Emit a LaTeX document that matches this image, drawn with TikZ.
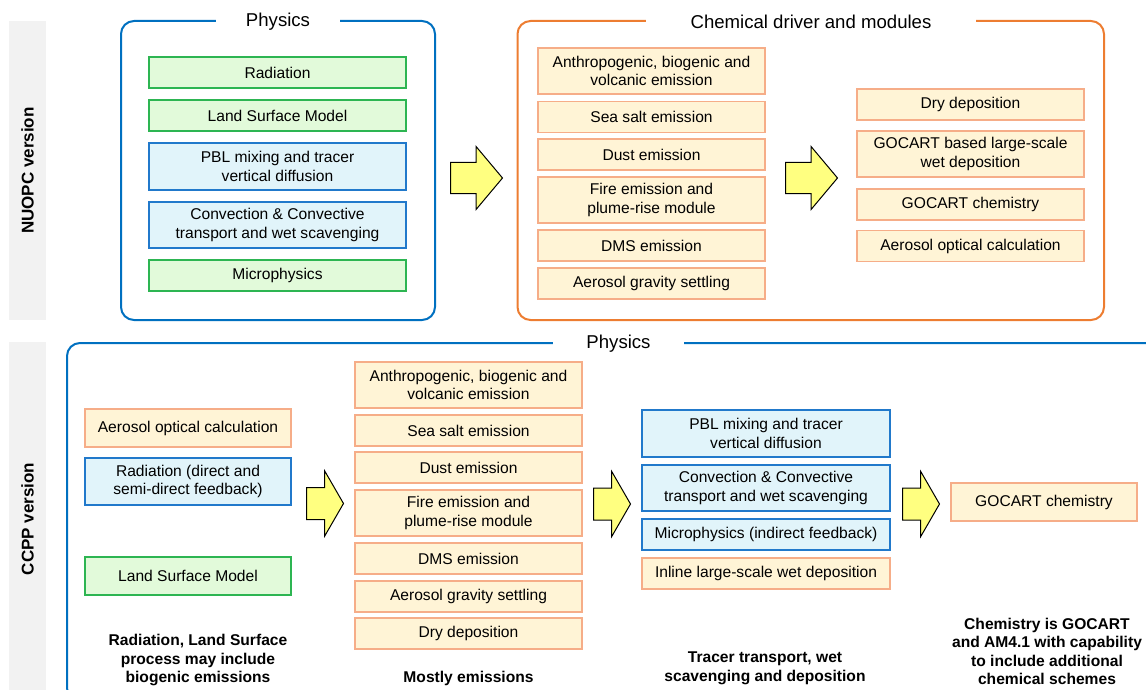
\documentclass[tikz,border=0pt]{standalone}
\usepackage{fontspec}
\setmainfont{Liberation Sans}
\usetikzlibrary{shapes.arrows}

\definecolor{frameblue}{HTML}{0070C0}
\definecolor{frameorange}{HTML}{ED7D31}
\definecolor{grnline}{HTML}{2DB552}
\definecolor{grnfill}{HTML}{E2FADA}
\definecolor{bluline}{HTML}{2179CB}
\definecolor{blufill}{HTML}{E1F4FA}
\definecolor{orgline}{HTML}{F6AD88}
\definecolor{orgfill}{HTML}{FFF4D6}
\definecolor{arrfill}{HTML}{FFFF80}
\definecolor{barfill}{HTML}{F2F2F2}

\begin{document}
\begin{tikzpicture}[x=1pt, y=-1pt, align=center,
    box/.style={rectangle, draw, line width=1.2pt, inner sep=0pt,
      font=\fontsize{15.6}{18.5}\selectfont},
    grnbox/.style={box, draw=grnline, fill=grnfill},
    blubox/.style={box, draw=bluline, fill=blufill},
    orgbox/.style={box, draw=orgline, fill=orgfill},
    frame/.style={rectangle, draw, line width=2pt, rounded corners=13pt},
    ftitle/.style={fill=white, inner xsep=0pt, inner ysep=2pt,
      font=\fontsize{18.6}{21}\selectfont},
    bigarrow/.style={single arrow, draw=black, fill=arrfill, line width=1pt,
      inner xsep=0pt, anchor=tail},
    note/.style={font=\fontsize{15.6}{18.5}\selectfont\bfseries},
    sidebar/.style={fill=barfill, rotate=90, minimum height=37pt,
      font=\fontsize{17}{20}\selectfont\bfseries}]
\clip (0, 0) rectangle (1146, 690);

\path (27.5, 170.5) node[sidebar, minimum width=299pt] (nuopc) {NUOPC version}
      (27.5, 519) node[sidebar, minimum width=354pt] (ccpp) {CCPP version};

\path (278, 170.5) node[frame, draw=frameblue, minimum width=314pt, minimum height=299pt] (nphys) {}
      (278, 22) node[ftitle, minimum width=124pt] (nphystitle) {Physics};

\path (277.5, 72.5) node[grnbox, minimum width=257pt, minimum height=31pt] (nrad) {Radiation}
      (277.5, 115.5) node[grnbox, minimum width=257pt, minimum height=31pt] (nlsm) {Land Surface Model}
      (277.5, 166.5) node[blubox, minimum width=257pt, minimum height=47pt] (npbl) {PBL mixing and tracer\\vertical diffusion}
      (277.5, 225) node[blubox, minimum width=257pt, minimum height=46pt] (nconv) {Convection \& Convective\\transport and wet scavenging}
      (277.5, 275.5) node[grnbox, minimum width=257pt, minimum height=31pt] (nmicro) {Microphysics};

\path (450, 178) node[bigarrow, minimum height=52pt, inner ysep=15pt,
        single arrow head extend=16pt, single arrow tip angle=100] (narr1) {};

\path (810.75, 170.5) node[frame, draw=frameorange, minimum width=586.5pt, minimum height=299pt] (nchem) {}
      (811, 22) node[ftitle, minimum width=330pt] (nchemtitle) {Chemical driver and modules};

\path (651.5, 71) node[orgbox, minimum width=227pt, minimum height=46pt] (nanth) {Anthropogenic, biogenic and\\volcanic emission}
      (651.5, 117) node[orgbox, minimum width=227pt, minimum height=31pt] (nsalt) {Sea salt emission}
      (651.5, 154.5) node[orgbox, minimum width=227pt, minimum height=31pt] (ndust) {Dust emission}
      (651.5, 200) node[orgbox, minimum width=227pt, minimum height=46pt] (nfire) {Fire emission and\\plume-rise module}
      (651.5, 245.5) node[orgbox, minimum width=227pt, minimum height=31pt] (ndms) {DMS emission}
      (651.5, 283.5) node[orgbox, minimum width=227pt, minimum height=31pt] (nsettle) {Aerosol gravity settling};

\path (785, 178) node[bigarrow, minimum height=52pt, inner ysep=15pt,
        single arrow head extend=16pt, single arrow tip angle=100] (narr2) {};

\path (970.5, 104.5) node[orgbox, minimum width=227pt, minimum height=31pt] (ndry) {Dry deposition}
      (970.5, 154) node[orgbox, minimum width=227pt, minimum height=46pt] (nwet) {GOCART based large-scale\\wet deposition}
      (970.5, 204.5) node[orgbox, minimum width=227pt, minimum height=31pt] (ngochem) {GOCART chemistry}
      (970.5, 246) node[orgbox, minimum width=227pt, minimum height=31pt] (naop) {Aerosol optical calculation};

\path (613.5, 522) node[frame, draw=frameblue, minimum width=1093pt, minimum height=358pt] (cphys) {}
      (618.5, 344) node[ftitle, minimum width=131pt] (cphystitle) {Physics};

\path (188, 428) node[orgbox, minimum width=206pt, minimum height=38pt] (caop) {Aerosol optical calculation}
      (188, 481.5) node[blubox, minimum width=206pt, minimum height=47pt] (crad) {Radiation (direct and\\semi-direct feedback)}
      (188, 576) node[grnbox, minimum width=206pt, minimum height=38pt] (clsm) {Land Surface Model}
      (198, 660) node[note] (cnote1) {Radiation, Land Surface\\process may include\\biogenic emissions};

\path (306, 503.5) node[bigarrow, minimum height=37pt, inner ysep=15.5pt,
        single arrow head extend=16.5pt, single arrow tip angle=120] (carr1) {};

\path (468.5, 385) node[orgbox, minimum width=227pt, minimum height=46pt] (canth) {Anthropogenic, biogenic and\\volcanic emission}
      (468.5, 430.5) node[orgbox, minimum width=227pt, minimum height=31pt] (csalt) {Sea salt emission}
      (468.5, 467.5) node[orgbox, minimum width=227pt, minimum height=31pt] (cdust) {Dust emission}
      (468.5, 513) node[orgbox, minimum width=227pt, minimum height=46pt] (cfire) {Fire emission and\\plume-rise module}
      (468.5, 558.5) node[orgbox, minimum width=227pt, minimum height=31pt] (cdms) {DMS emission}
      (468.5, 596.5) node[orgbox, minimum width=227pt, minimum height=31pt] (csettle) {Aerosol gravity settling}
      (468.5, 633.5) node[orgbox, minimum width=227pt, minimum height=31pt] (cdry) {Dry deposition}
      (468.5, 678) node[note] (cnote2) {Mostly emissions};

\path (593, 504) node[bigarrow, minimum height=37pt, inner ysep=15.5pt,
        single arrow head extend=16.5pt, single arrow tip angle=120] (carr2) {};

\path (766, 433.5) node[blubox, minimum width=248pt, minimum height=47pt] (cpbl) {PBL mixing and tracer\\vertical diffusion}
      (766, 488) node[blubox, minimum width=248pt, minimum height=46pt] (cconv) {Convection \& Convective\\transport and wet scavenging}
      (766, 534.5) node[blubox, minimum width=248pt, minimum height=31pt] (cmicro) {Microphysics (indirect feedback)}
      (766, 573.5) node[orgbox, minimum width=248pt, minimum height=31pt] (cinline) {Inline large-scale wet deposition}
      (765, 668.5) node[note] (cnote3) {Tracer transport, wet\\scavenging and deposition};

\path (902, 504) node[bigarrow, minimum height=37pt, inner ysep=15.5pt,
        single arrow head extend=16.5pt, single arrow tip angle=120] (carr3) {};

\path (1044, 502) node[orgbox, minimum width=186pt, minimum height=38pt] (cgochem) {GOCART chemistry}
      (1047, 651.5) node[note] (cnote4) {Chemistry is GOCART\\and AM4.1 with capability\\to include additional\\chemical schemes};
\end{tikzpicture}
\end{document}
